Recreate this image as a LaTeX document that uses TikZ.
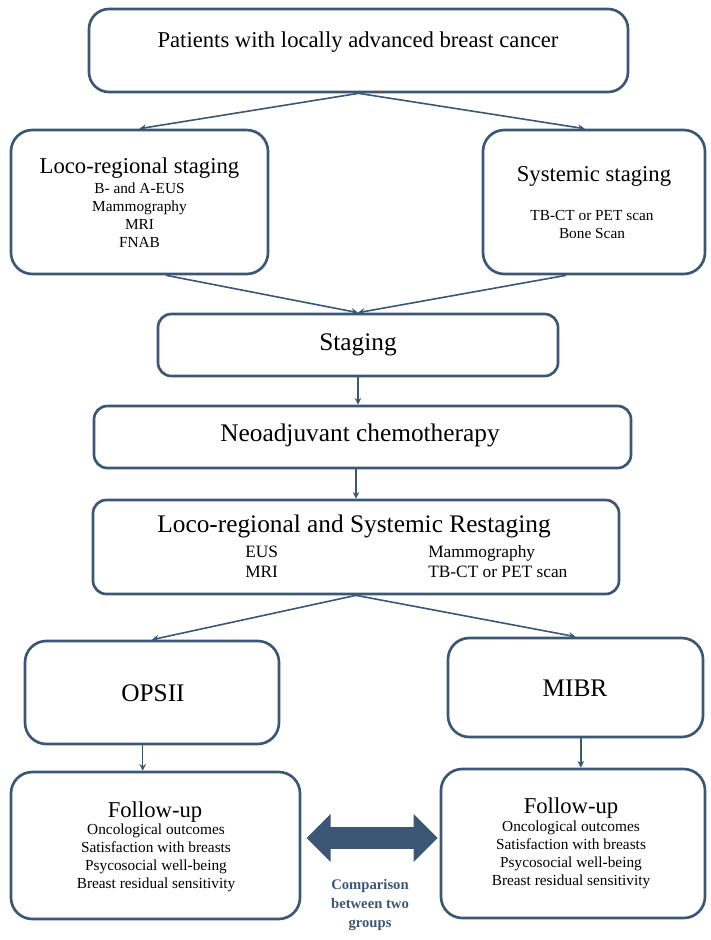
\documentclass[tikz,border=0pt]{standalone}
\usepackage{fontspec}
\setmainfont{Liberation Serif}
\usetikzlibrary{arrows.meta,fit}
\definecolor{frame}{RGB}{59,87,117}

\begin{document}
\begin{tikzpicture}[x=0.75pt,y=0.75pt,yscale=-1,xscale=1,
	box/.style={draw=frame,line width=2pt,rounded corners=10pt,inner sep=0pt},
	bigbox/.style={box,rounded corners=16pt},
	title/.style={inner sep=0.75pt,font=\fontsize{17}{20}\selectfont},
	bigtitle/.style={inner sep=0.75pt,font=\fontsize{19}{22}\selectfont},
	items/.style={inner sep=0.75pt,align=center,font=\fontsize{11.5}{13.5}\selectfont},
	cols/.style={inner sep=0.75pt,align=left,anchor=west,font=\fontsize{13}{15}\selectfont},
	note/.style={inner sep=0.75pt,align=center,text=frame,font=\bfseries\fontsize{11}{14}\selectfont},
	link/.style={draw=frame,line width=1.2pt,-{Stealth[length=5pt,width=5pt]}},
	twoway/.style={draw=frame,line width=17pt,{Triangle[length=18pt,width=35pt]}-{Triangle[length=18pt,width=35pt]}}]
	\useasboundingbox (0,0) rectangle (711,940);

	% Boxes
	\node[box,rounded corners=15pt,fit={(89,9) (628,92)}] (patients) {};
	\node[bigbox,fit={(11,130) (268,274)}] (loco) {};
	\node[bigbox,fit={(483,130) (705,274)}] (systemic) {};
	\node[box,fit={(158,314) (558,376)}] (staging) {};
	\node[box,fit={(94,406) (631,468)}] (neo) {};
	\node[box,fit={(93,500) (619,594)}] (restage) {};
	\node[bigbox,fit={(25,641) (279,744)}] (opsii) {};
	\node[bigbox,fit={(448,638) (703,737)}] (mibr) {};
	\node[bigbox,fit={(11,772) (300,919)}] (followL) {};
	\node[bigbox,fit={(441,769) (705,918)}] (followR) {};

	% Text Node
	\node[title] (patientsT) at (358,42) {Patients with locally advanced breast cancer};
	% Text Node
	\node[title] (locoT) at (139.5,168) {Loco-regional staging};
	\node[items] (locoL) at (139.5,215) {B- and A-EUS\\Mammography\\MRI\\FNAB};
	% Text Node
	\node[title] (systemicT) at (594,176) {Systemic staging};
	\node[items] (systemicL) at (592,224) {TB-CT or PET scan\\Bone Scan};
	% Text Node
	\node[bigtitle] (stagingT) at (358,345) {Staging};
	% Text Node
	\node[bigtitle] (neoT) at (360,435) {Neoadjuvant chemotherapy};
	% Text Node
	\node[bigtitle] (restageT) at (354,526) {Loco-regional and Systemic Restaging};
	\node[cols] (restageA) at (244,562) {EUS\\MRI};
	\node[cols] (restageB) at (427,562) {Mammography\\TB-CT or PET scan};
	% Text Node
	\node[bigtitle] (opsiiT) at (153,693) {OPSII};
	\node[bigtitle] (mibrT) at (575,688) {MIBR};
	% Text Node
	\node[title] (followLT) at (155,812) {Follow-up};
	\node[items] (followLL) at (156,858) {Oncological outcomes\\Satisfaction with breasts\\Psycosocial well-being\\Breast residual sensitivity};
	% Text Node
	\node[title] (followRT) at (571,808) {Follow-up};
	\node[items] (followRL) at (571,855) {Oncological outcomes\\Satisfaction with breasts\\Psycosocial well-being\\Breast residual sensitivity};
	% Text Node
	\node[note] (cmpT) at (370,905) {Comparison\\between two\\groups};
	\coordinate (cmp) at (372,838);

	% Connection
	\draw[link] (patients.south) -- (loco.north);
	\draw[link] (patients.south) -- ([xshift=-7pt]systemic.north);
	% Connection
	\draw[link] ([xshift=20pt]loco.south) -- (staging.north);
	\draw[link] ([xshift=-21pt]systemic.south) -- (staging.north);
	% Connection
	\draw[link] (staging.south) -- (staging.south |- neo.north);
	\draw[link] (restage.north |- neo.south) -- (restage.north);
	% Connection
	\draw[link] (restage.south) -- (opsii.north);
	\draw[link] (restage.south) -- (mibr.north);
	% Connection
	\draw[link] ([xshift=-7pt]opsii.south) -- ([xshift=-7pt]opsii.south |- followL.north);
	\draw[link] ([xshift=4pt]mibr.south) -- ([xshift=4pt]mibr.south |- followR.north);
	% Connection
	\draw[twoway,shorten <=4pt,shorten >=1.5pt] (followL.east |- cmp) -- (followR.west |- cmp);

\end{tikzpicture}
\end{document}
